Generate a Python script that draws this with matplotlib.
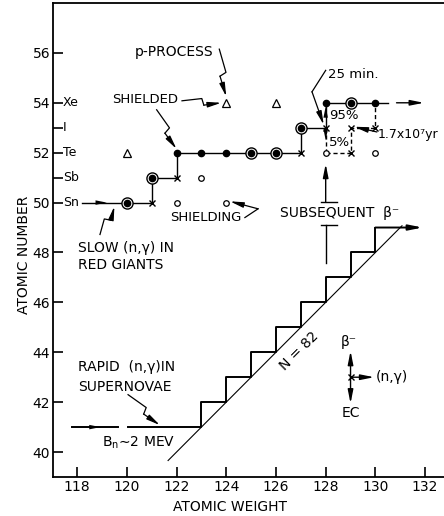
import matplotlib.pyplot as plt
import numpy as np

plt.rcParams['font.family'] = 'DejaVu Sans'
plt.rcParams['font.size'] = 10

# nuclides on the (A, Z) plane, by symbol
stable_a = [122, 123, 124, 128, 130]          # filled dots
stable_z = [52, 52, 52, 54, 54]
s_only_a = [120, 121, 125, 126, 127, 129]     # ringed dots
s_only_z = [50, 51, 52, 52, 53, 54]
unstable_a = [121, 122, 127, 128, 129, 130, 129]   # crosses
unstable_z = [50, 51, 52, 53, 53, 53, 52]
r_only_a = [122, 124, 123, 128, 130]          # small open circles
r_only_z = [50, 50, 51, 52, 52]
p_only_a = [120, 124, 126]                    # triangles
p_only_z = [52, 54, 54]

# slow capture path (solid) and the weak branch through 128I (dashed)
s_path_a = [120, 121, 121, 122, 122, 127, 127, 128]
s_path_z = [50, 50, 51, 51, 52, 52, 53, 53]
xe_path_a = [128, 130]
xe_path_z = [54, 54]
branch_a = [128, 129, 129, 130, 130]
branch_z = [52, 52, 53, 53, 54]

# rapid capture staircase along N = 82
r_step_a = [123, 124, 125, 126, 127, 128, 129, 130]
r_step_z = [41, 42, 43, 44, 45, 46, 47, 48]

element_z = [54, 53, 52, 51, 50]
element_names = ['Xe', 'I', 'Te', 'Sb', 'Sn']
x_ticks = [118, 120, 122, 124, 126, 128, 130, 132]
y_ticks = [40, 42, 44, 46, 48, 50, 52, 54, 56]

fig = plt.figure(figsize=(4.44, 5.16), dpi=100)
ax = fig.add_axes([53 / 444, 39 / 516, 391 / 444, 474 / 516])
ax.set_xlim(117.03, 132.76)
ax.set_ylim(39.0, 58.0)

arrow_kw = dict(arrowstyle='-|>,head_length=0.8,head_width=0.16', color='k', lw=1.0,
                shrinkA=0, shrinkB=0)


def arrow(start, end, **kw):
    props = dict(arrow_kw)
    props.update(kw)
    ax.annotate('', xy=end, xytext=start, arrowprops=props)


def mid_arrow(start, end, frac=0.5, **kw):
    # plain line with an arrowhead part way along it
    ax.plot([start[0], end[0]], [start[1], end[1]], color='k', lw=kw.get('lw', 1.0),
            ls=kw.get('ls', '-'))
    mid = (start[0] + (end[0] - start[0]) * frac, start[1] + (end[1] - start[1]) * frac)
    arrow(start, mid, lw=0.01)


def bolt(start, end, t=0.5, d=0.13):
    # leader with a small lightning jog in the middle
    x0, y0 = start
    x1, y1 = end
    dx, dy = x1 - x0, y1 - y0
    n = np.hypot(dx, dy)
    px, py = -dy / n, dx / n
    a = (x0 + dx * t + px * d, y0 + dy * t + py * d)
    b = (x0 + dx * (t + 0.06) - px * d, y0 + dy * (t + 0.06) - py * d)
    ax.plot([x0, a[0], b[0]], [y0, a[1], b[1]], color='k', lw=0.9)
    arrow(b, end, lw=0.9)


# N = 82 closed shell and the rapid-capture staircase
ax.plot([121.66, 131.07], [39.66, 49.07], color='k', lw=0.8)
stair_x = [120.05]
stair_y = [41]
for a, z in zip(r_step_a, r_step_z):
    stair_x += [a, a]
    stair_y += [z, z + 1]
stair_x.append(131.9)
stair_y.append(r_step_z[-1] + 1)
ax.plot(stair_x[:-1], stair_y[:-1], color='k', lw=1.4)
arrow((stair_x[-2], stair_y[-2]), (stair_x[-1], stair_y[-1]), lw=1.4)
mid_arrow((117.79, 41), (119.64, 41), frac=0.62, lw=1.4)

# slow-capture path
mid_arrow((118.2, 50), (120, 50), frac=0.55)
ax.plot(s_path_a, s_path_z, color='k', lw=1.0)
ax.plot(xe_path_a, xe_path_z, color='k', lw=1.0)
ax.plot([128, 128], [53, 54], color='k', lw=1.0)
arrow((128, 53.45), (128, 53.85), lw=0.01)
ax.plot(branch_a, branch_z, color='k', lw=1.0, ls=(0, (3, 2)))
ax.plot([128, 128], [53, 52], color='k', lw=1.0, ls=(0, (3, 2)))
arrow((128, 52.85), (128, 52.5), lw=0.01)
ax.plot([130, 130.5], [54, 54], color='k', lw=1.0)
arrow((130.85, 54), (131.95, 54), lw=1.0)

# nuclide symbols
ax.plot(s_only_a, s_only_z, 'o', ms=8, mfc='white', mec='k', mew=1.0)
ax.plot(s_only_a, s_only_z, 'o', ms=4.5, color='k')
ax.plot(stable_a, stable_z, 'o', ms=4.5, color='k')
ax.plot(r_only_a, r_only_z, 'o', ms=4, mfc='white', mec='k', mew=0.9)
ax.plot(unstable_a, unstable_z, 'x', ms=5, color='k', mew=1.0)
ax.plot(p_only_a, p_only_z, '^', ms=6, mfc='white', mec='k', mew=0.9)

# element names beside the axis
for z, name in zip(element_z, element_names):
    ax.text(117.43, z, name, ha='left', va='center', fontsize=9)

# annotations
ax.text(120.33, 56.04, 'p-PROCESS', ha='left', va='center')
bolt((123.72, 56.15), (124.0, 54.25))
ax.text(119.4, 54.12, 'SHIELDED', ha='left', va='center', fontsize=9.5)
bolt((122.22, 54.08), (123.8, 54.0))
bolt((121.2, 53.72), (122.0, 52.15))

ax.text(121.74, 49.42, 'SHIELDING', ha='left', va='center', fontsize=9.5)
ax.plot([124.75, 125.28], [49.4, 49.75], color='k', lw=0.9)
arrow((125.28, 49.75), (124.15, 50.05), lw=0.9)

ax.text(118.04, 48.18, 'SLOW (n,γ) IN', ha='left', va='center')
ax.text(118.04, 47.5, 'RED GIANTS', ha='left', va='center')
bolt((118.92, 48.72), (119.5, 49.85))

ax.text(118.04, 43.41, 'RAPID  (n,γ)IN', ha='left', va='center')
ax.text(118.04, 42.62, 'SUPERNOVAE', ha='left', va='center')
bolt((120.05, 42.3), (121.33, 41.08))
ax.text(119.0, 40.36, 'B$_\\mathregular{n}$∼2 MEV', ha='left', va='center')

ax.text(128.09, 55.12, '25 min.', ha='left', va='center', fontsize=9.5)
ax.plot([128.0, 127.45], [55.3, 54.44], color='k', lw=0.9)
arrow((127.45, 54.44), (127.92, 53.12), lw=0.9)
ax.text(128.13, 53.51, '95%', ha='left', va='center', fontsize=9.5)
ax.text(128.13, 52.4, '5%', ha='left', va='center', fontsize=9.5)
ax.text(130.1, 52.71, '1.7x10⁷yr', ha='left', va='center', fontsize=9)
arrow((130.06, 52.83), (129.15, 53.04), lw=0.9)

ax.text(126.16, 49.59, 'SUBSEQUENT  β⁻', ha='left', va='center')
ax.plot([127.8, 128.45], [50.03, 50.03], color='k', lw=1.0)
ax.plot([127.8, 128.45], [49.1, 49.1], color='k', lw=1.0)
ax.plot([128, 128], [47.58, 49.1], color='k', lw=1.0)
arrow((128, 50.03), (128, 51.55), lw=1.0)

ax.text(126.95, 44.05, 'N = 82', rotation=45, ha='center', va='center')

# key to the reaction directions
ax.plot([129], [43], 'x', ms=5, color='k', mew=1.0)
arrow((129, 43), (129, 44.05))
arrow((129, 43), (129, 41.95))
arrow((129, 43), (129.95, 43))
ax.text(128.95, 44.4, 'β⁻', ha='center', va='center')
ax.text(130.0, 43.0, '(n,γ)', ha='left', va='center')
ax.text(129.0, 41.55, 'EC', ha='center', va='center')

# axes styling
ax.spines['right'].set_visible(False)
for side in ['left', 'top', 'bottom']:
    ax.spines[side].set_linewidth(1.3)
ax.set_xticks(x_ticks)
ax.set_yticks(y_ticks)
ax.set_yticks([51, 53], minor=True)
ax.tick_params(axis='x', direction='in', length=7, width=1.2, pad=2, labelsize=10)
ax.tick_params(axis='y', which='both', direction='in', length=7, width=1.2, pad=2,
               labelsize=10)
ax.tick_params(top=False, right=False)

fig.text(230 / 444, 1 - 507 / 516, 'ATOMIC WEIGHT', ha='center', va='center', fontsize=10)
fig.text(24 / 444, 1 - 255 / 516, 'ATOMIC NUMBER', ha='center', va='center',
         rotation=90, fontsize=10)

fig.savefig('out.png', dpi=100)
